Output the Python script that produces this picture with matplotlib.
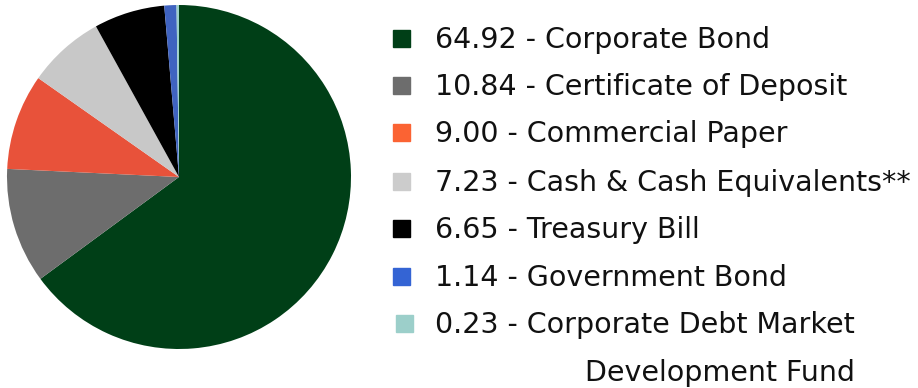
import matplotlib.pyplot as plt
from matplotlib.patches import Rectangle

values = [64.92, 10.84, 9.00, 7.23, 6.65, 1.14, 0.23]
names = ['Corporate Bond', 'Certificate of Deposit', 'Commercial Paper',
         'Cash & Cash Equivalents**', 'Treasury Bill', 'Government Bond',
         'Corporate Debt Market\nDevelopment Fund']
pie_colors = ['#003f17', '#6d6d6d', '#e8523a', '#c8c8c8', '#000000', '#3f63c0', '#9ccfca']
key_colors = ['#003f17', '#6d6d6d', '#fb6333', '#cccccc', '#000000', '#3464d4', '#9ccfca']

plt.rcParams['font.family'] = ['DejaVu Sans']

W, H = 918, 388
fig = plt.figure(figsize=(W / 100, H / 100), dpi=100)

ax = fig.add_axes([7 / W, 1 - 349 / H, 344 / W, 344 / H])
ax.pie(values, colors=pie_colors, startangle=90, counterclock=False,
       wedgeprops={'linewidth': 0})
ax.set_xlim(-1, 1)
ax.set_ylim(-1, 1)
ax.set_aspect('equal')

# legend drawn by hand (pixel baselines of each row)
baselines = [48, 95, 142, 191, 238, 286, 333]
sq = 17
for i, (v, n) in enumerate(zip(values, names)):
    b = baselines[i]
    cx = 401 if i < 6 else 404
    fig.patches.append(Rectangle(((cx - sq / 2) / W, 1 - (b - 10 + sq / 2) / H),
                                 sq / W, sq / H, transform=fig.transFigure,
                                 color=key_colors[i]))
    lines = n.split('\n')
    fig.text(435 / W, 1 - b / H, '%.2f - %s' % (v, lines[0]), fontsize=20.5,
             va='baseline', ha='left', color='#111111')
    if len(lines) > 1:
        fig.text(585 / W, 1 - (b + 48) / H, lines[1], fontsize=20.5,
                 va='baseline', ha='left', color='#111111')

fig.savefig('out.png', dpi=100)
